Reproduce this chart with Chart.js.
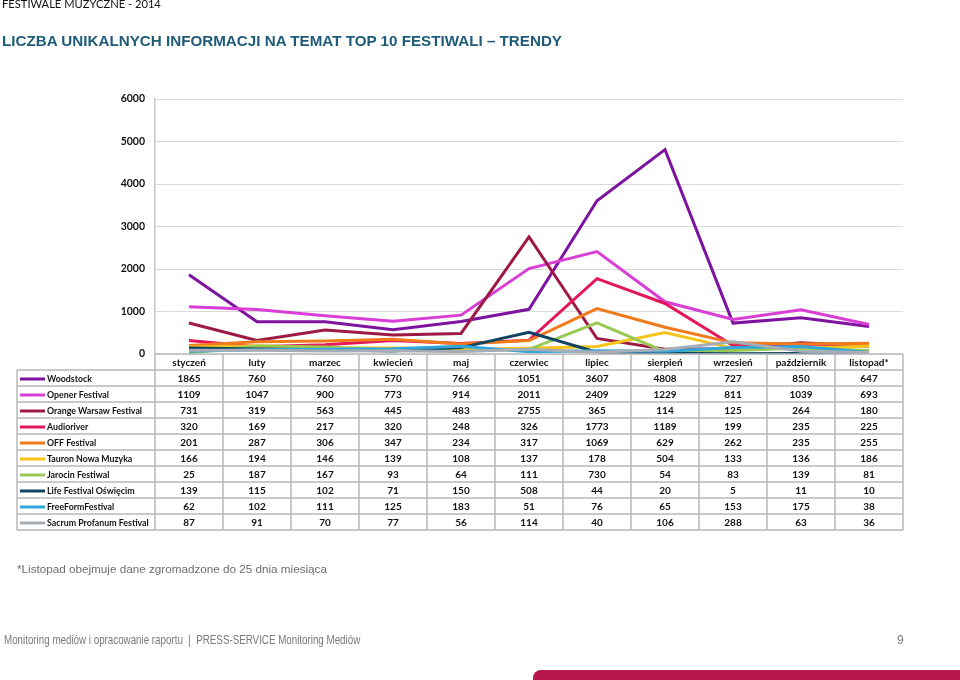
<!DOCTYPE html>
<html>
<head>
<meta charset="utf-8">
<script src="https://cdn.jsdelivr.net/npm/chart.js@4"></script>
<style>
  body { margin: 0; background: #fff; }
  #wrap { position: relative; width: 960px; height: 680px; overflow: hidden; }
  #myChart { position: absolute; left: 0; top: 0; }
  .txt { position: absolute; white-space: nowrap; }
  #sup { left: 2px; top: -3px; font: 11.5px Lato, sans-serif; color: #111; transform: scaleX(0.97); transform-origin: left top; }
  #title { left: 2px; top: 32px; font: bold 15.2px "Liberation Sans", Arial, sans-serif; color: #1e5b78; }
  #note { left: 17px; top: 562px; font: 11.7px "Liberation Sans", Arial, sans-serif; color: #6e6e6e; }
  #foot { left: 4px; top: 633px; font: 12px "Liberation Sans", Arial, sans-serif; color: #7a7a7a; transform: scaleX(0.815); transform-origin: left top; }
  #page { left: 897px; top: 633px; font: 12px "Liberation Sans", Arial, sans-serif; color: #7a7a7a; }
  #bar { position: absolute; left: 533px; top: 670px; width: 427px; height: 12px; background: #b5174a; border-top-left-radius: 8px; }
</style>
</head>
<body>
<div id="wrap">
  <canvas id="myChart" width="960" height="680"></canvas>
  <div class="txt" id="sup">FESTIWALE MUZYCZNE - 2014</div>
  <div class="txt" id="title">LICZBA UNIKALNYCH INFORMACJI NA TEMAT TOP 10 FESTIWALI – TRENDY</div>
  <div class="txt" id="note">*Listopad obejmuje dane zgromadzone do 25 dnia miesiąca</div>
  <div class="txt" id="foot">Monitoring mediów i opracowanie raportu &nbsp;|&nbsp; PRESS-SERVICE Monitoring Mediów</div>
  <div class="txt" id="page">9</div>
  <div id="bar"></div>
</div>
<script>
const months = ['styczeń', 'luty', 'marzec', 'kwiecień', 'maj', 'czerwiec', 'lipiec', 'sierpień', 'wrzesień', 'październik', 'listopad*'];
const yTicks = [0, 1000, 2000, 3000, 4000, 5000, 6000];

const woodstock = [1865, 760, 760, 570, 766, 1051, 3607, 4808, 727, 850, 647];
const opener = [1109, 1047, 900, 773, 914, 2011, 2409, 1229, 811, 1039, 693];
const orangeWarsaw = [731, 319, 563, 445, 483, 2755, 365, 114, 125, 264, 180];
const audioriver = [320, 169, 217, 320, 248, 326, 1773, 1189, 199, 235, 225];
const offFestival = [201, 287, 306, 347, 234, 317, 1069, 629, 262, 235, 255];
const tauron = [166, 194, 146, 139, 108, 137, 178, 504, 133, 136, 186];
const jarocin = [25, 187, 167, 93, 64, 111, 730, 54, 83, 139, 81];
const lifeFestival = [139, 115, 102, 71, 150, 508, 44, 20, 5, 11, 10];
const freeForm = [62, 102, 111, 125, 183, 51, 76, 65, 153, 175, 38];
const sacrum = [87, 91, 70, 77, 56, 114, 40, 106, 288, 63, 36];

const series = [
    { label: 'Woodstock', data: woodstock, color: '#7d139f' },
    { label: 'Opener Festival', data: opener, color: '#d93fd6' },
    { label: 'Orange Warsaw Festival', data: orangeWarsaw, color: '#9c1a45' },
    { label: 'Audioriver', data: audioriver, color: '#e4175c' },
    { label: 'OFF Festival', data: offFestival, color: '#f07a1c' },
    { label: 'Tauron Nowa Muzyka', data: tauron, color: '#f6c319' },
    { label: 'Jarocin Festiwal', data: jarocin, color: '#98c954' },
    { label: 'Life Festival Oświęcim', data: lifeFestival, color: '#0f4560' },
    { label: 'FreeFormFestival', data: freeForm, color: '#31a6da' },
    { label: 'Sacrum Profanum Festival', data: sacrum, color: '#a7adb6' }
];

// data table under the plot, columns follow the x scale
const tablePlugin = {
    id: 'dataTable',
    afterDraw(chart) {
        const c = chart.ctx;
        const area = chart.chartArea;
        const x = chart.scales.x;
        const colW = area.width / months.length;
        const rowH = 16;
        const top = area.bottom;
        const left0 = 17;
        const bottom = top + rowH * (series.length + 1);
        c.save();
        c.strokeStyle = '#b9b9b9';
        c.lineWidth = 1.5;
        c.beginPath();
        c.moveTo(area.left, top); c.lineTo(area.right, top);
        for (let r = 1; r <= series.length + 1; r++) {
            c.moveTo(left0, top + r * rowH); c.lineTo(area.right, top + r * rowH);
        }
        c.moveTo(left0, top + rowH); c.lineTo(left0, bottom);
        for (let i = 0; i <= months.length; i++) {
            const xx = area.left + i * colW;
            c.moveTo(xx, top); c.lineTo(xx, bottom);
        }
        c.stroke();

        c.textBaseline = 'middle';
        c.fillStyle = '#111';
        c.font = 'bold 10px Lato, sans-serif';
        c.textAlign = 'center';
        months.forEach((m, i) => c.fillText(m, x.getPixelForValue(i), top + rowH / 2 + 1));
        series.forEach((s, r) => {
            const cy = top + rowH * (r + 1) + rowH / 2 + 1;
            c.strokeStyle = s.color;
            c.lineWidth = 3;
            c.beginPath();
            c.moveTo(20, cy); c.lineTo(45, cy);
            c.stroke();
            // labels are narrower in the original, squeeze a bit
            c.save();
            c.translate(47, cy);
            c.scale(0.88, 1);
            c.textAlign = 'left';
            c.fillText(s.label, 0, 0);
            c.restore();
            c.textAlign = 'center';
            s.data.forEach((v, i) => c.fillText(String(v), x.getPixelForValue(i), cy));
        });
        c.restore();
    }
};

const ctx = document.getElementById('myChart').getContext('2d');

new Chart(ctx, {
    type: 'line',
    data: {
        labels: months,
        datasets: series.map((s, i) => ({
            label: s.label,
            data: s.data,
            borderColor: s.color,
            backgroundColor: s.color,
            borderWidth: 3,
            pointRadius: 0,
            tension: 0,
            order: series.length - i
        }))
    },
    options: {
        responsive: false,
        animation: false,
        layout: { padding: { left: 17, top: 99, right: 57, bottom: 326 } },
        plugins: {
            legend: { display: false },
            tooltip: { enabled: false }
        },
        scales: {
            x: {
                display: false,
                offset: true
            },
            y: {
                min: 0,
                max: 6000,
                afterFit(scale) { scale.width = 138; },
                afterBuildTicks(scale) { scale.ticks = yTicks.map(v => ({ value: v })); },
                grid: { color: '#d9d9d9', drawTicks: false },
                border: { color: '#c8c8c8', width: 1.5 },
                ticks: {
                    padding: 10,
                    color: '#111',
                    font: { family: 'Lato', size: 10.5, weight: 'bold' },
                    callback: v => String(v)
                }
            }
        }
    },
    plugins: [tablePlugin]
});
</script>
</body>
</html>
